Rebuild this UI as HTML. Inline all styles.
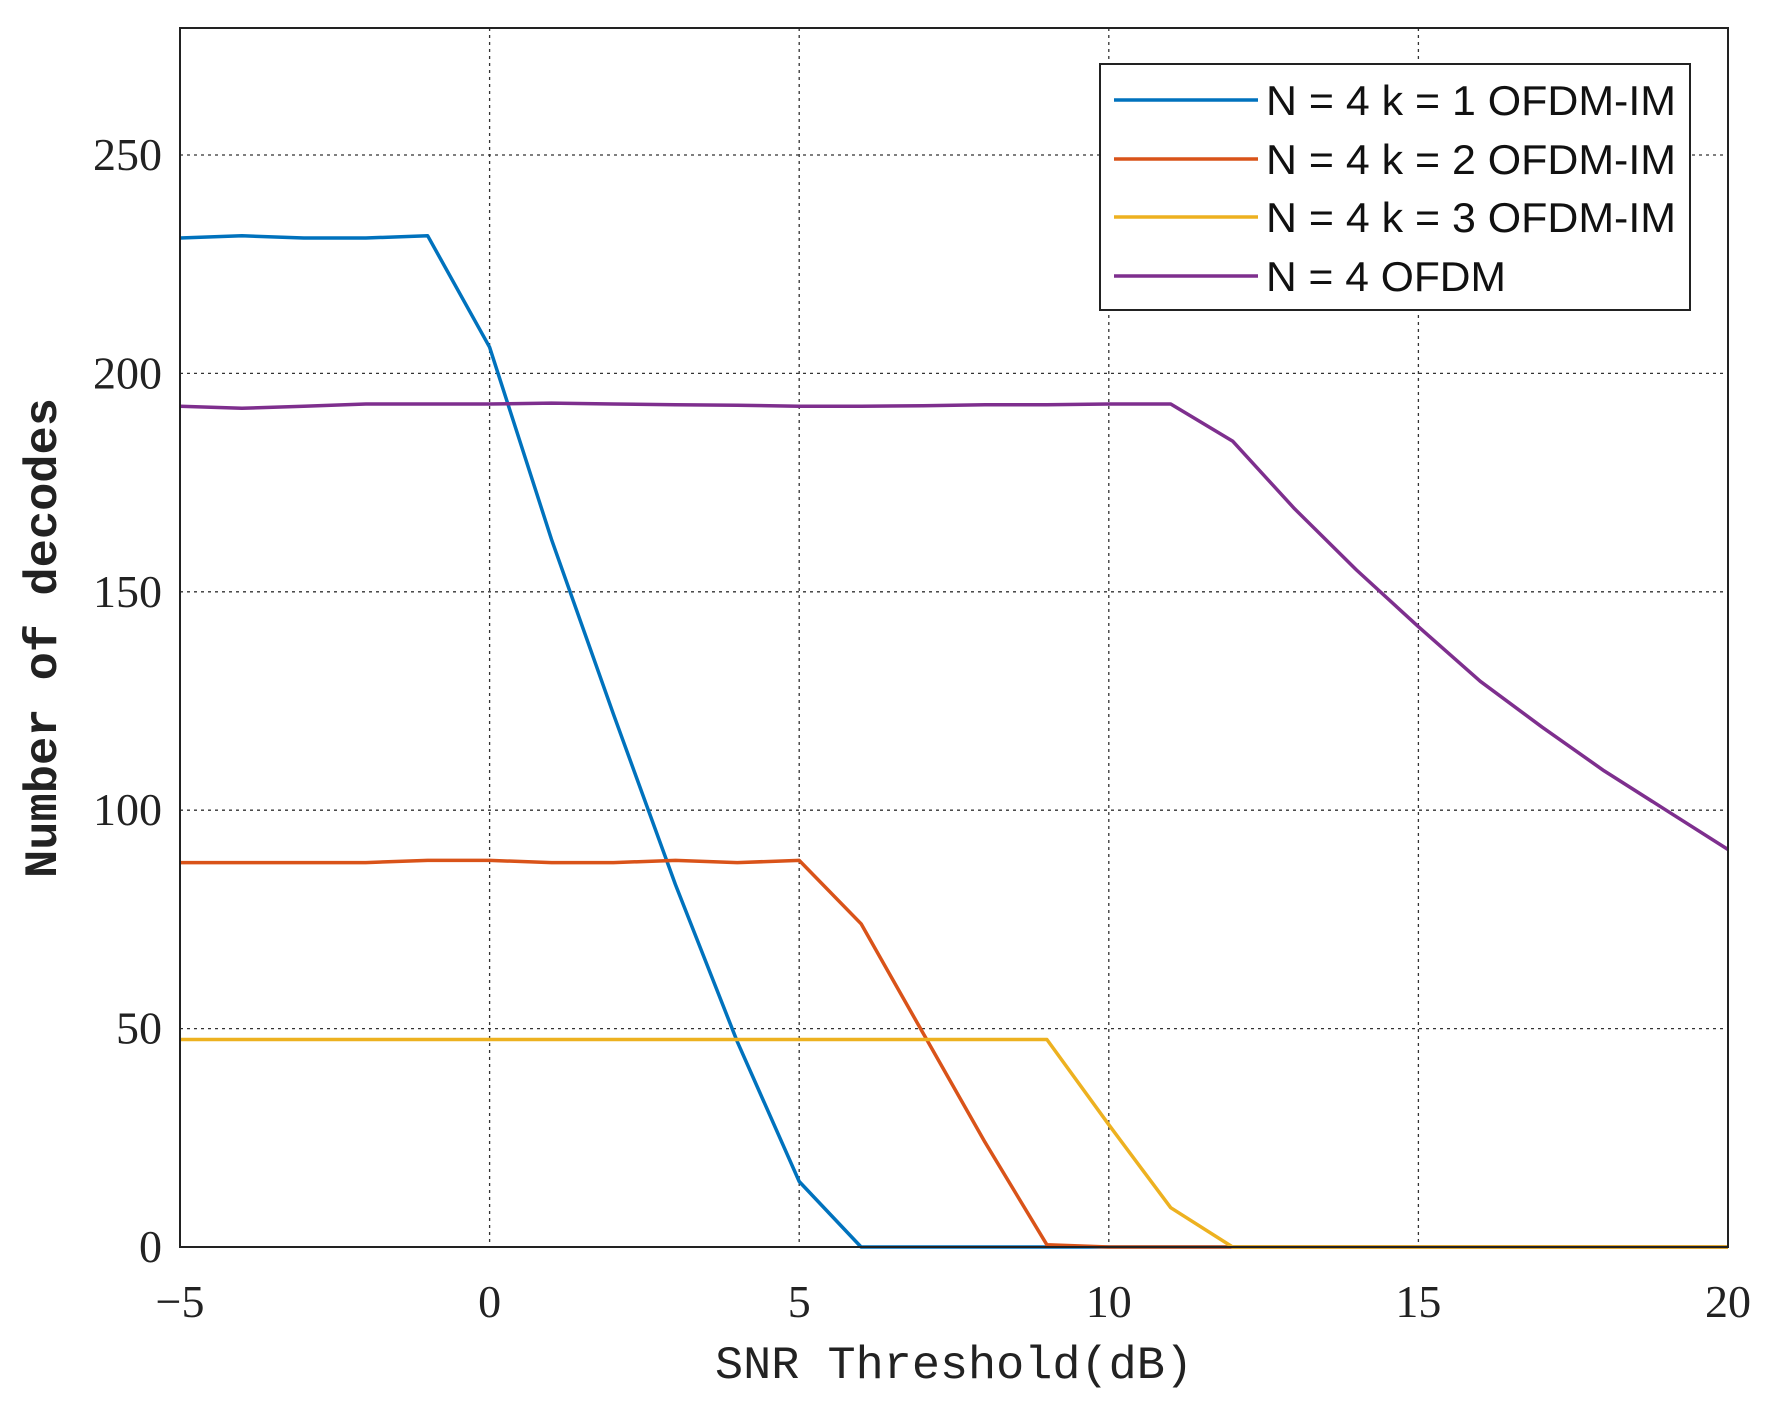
<!DOCTYPE html>
<html><head><meta charset="utf-8"><style>
html,body{margin:0;padding:0;background:#fff;}
svg{display:block}
</style></head><body>
<svg id="s" width="1765" height="1410" xmlns="http://www.w3.org/2000/svg">
<rect width="1765" height="1410" fill="#fff"/>
<g id="grid" stroke="#333" stroke-width="1.3" stroke-dasharray="3,4"></g>
<g id="lbl" font-family="Liberation Serif, serif" font-size="46" fill="#222"></g>
<g id="lines" fill="none" stroke-width="3.5" stroke-linejoin="round"></g>
<rect x="180" y="28" width="1548" height="1219" fill="none" stroke="#222" stroke-width="2"/>
<rect x="1100" y="64" width="590" height="246" fill="#fff" stroke="#222" stroke-width="2"/>
<g font-family="Liberation Sans, sans-serif" font-size="42" fill="#111">
<line x1="1114" y1="100" x2="1258" y2="100" stroke="#0072BD" stroke-width="3.5"/><text x="1266" y="115" textLength="410" lengthAdjust="spacingAndGlyphs">N = 4 k = 1 OFDM-IM</text>
<line x1="1114" y1="159" x2="1258" y2="159" stroke="#D95319" stroke-width="3.5"/><text x="1266" y="174" textLength="410" lengthAdjust="spacingAndGlyphs">N = 4 k = 2 OFDM-IM</text>
<line x1="1114" y1="217" x2="1258" y2="217" stroke="#EDB120" stroke-width="3.5"/><text x="1266" y="232" textLength="410" lengthAdjust="spacingAndGlyphs">N = 4 k = 3 OFDM-IM</text>
<line x1="1114" y1="276" x2="1258" y2="276" stroke="#7E2F8E" stroke-width="3.5"/><text x="1266" y="291" textLength="240" lengthAdjust="spacingAndGlyphs">N = 4 OFDM</text>
</g>
<text x="954" y="1378" text-anchor="middle" font-family="Liberation Mono, monospace" font-size="46" fill="#222" textLength="478" lengthAdjust="spacingAndGlyphs">SNR Threshold(dB)</text>
<text transform="translate(56,638) rotate(-90)" text-anchor="middle" font-family="Liberation Mono, monospace" font-size="46" font-weight="bold" fill="#222" textLength="480" lengthAdjust="spacingAndGlyphs">Number of decodes</text>
</svg>
<script>
var X=function(v){return 180+(v+5)*1548/25;};
var Y=function(v){return 1247-v*(1247-155)/250;};
var g=document.getElementById('grid'),l=document.getElementById('lbl'),L=document.getElementById('lines');
var ns='http://www.w3.org/2000/svg';
function el(p,t,a,txt){var e=document.createElementNS(ns,t);for(var k in a)e.setAttribute(k,a[k]);if(txt!=null)e.textContent=txt;p.appendChild(e);}
for(var x=0;x<=15;x+=5){el(g,'line',{x1:X(x),x2:X(x),y1:28,y2:1247});}
for(var y=50;y<=250;y+=50){el(g,'line',{x1:180,x2:1728,y1:Y(y),y2:Y(y)});}
for(var x=-5;x<=20;x+=5){el(l,'text',{x:X(x),y:1317,'text-anchor':'middle'},x<0?'\u2212'+(-x):''+x);}
for(var y=0;y<=250;y+=50){el(l,'text',{x:162,y:Y(y)+15,'text-anchor':'end'},''+y);}
var S=[
['#0072BD',[231,231.5,231,231,231.5,206,162,122,83,47,15,0,0,0,0,0,0,0,0,0,0,0,0,0,0,0]],
['#D95319',[88,88,88,88,88.5,88.5,88,88,88.5,88,88.5,74,49,24,0.5,0,0,0,0,0,0,0,0,0,0,0]],
['#EDB120',[47.5,47.5,47.5,47.5,47.5,47.5,47.5,47.5,47.5,47.5,47.5,47.5,47.5,47.5,47.5,28,9,0,0,0,0,0,0,0,0,0]],
['#7E2F8E',[192.5,192,192.5,193,193,193,193.2,193,192.8,192.7,192.5,192.5,192.6,192.8,192.8,193,193,184.5,169,155,142,129.5,119,109,100,91]]];
S.forEach(function(s){var p=s[1].map(function(v,i){return X(i-5).toFixed(1)+','+Y(v).toFixed(1);}).join(' ');el(L,'polyline',{points:p,stroke:s[0]});});
</script>
</body></html>
